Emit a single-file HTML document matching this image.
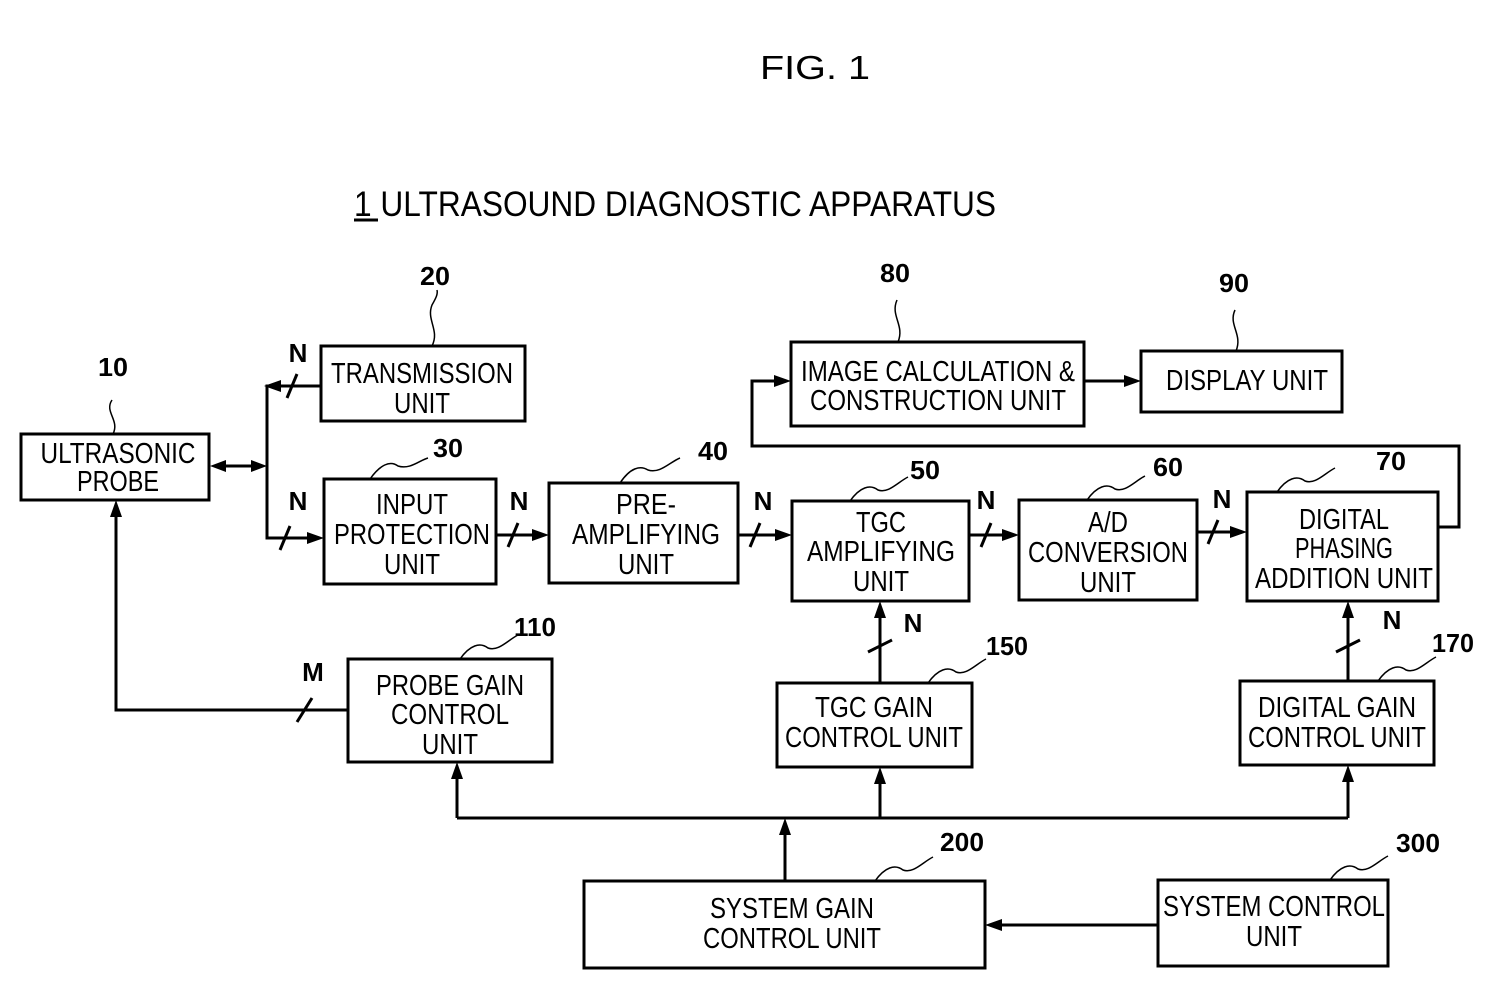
<!DOCTYPE html>
<html><head><meta charset="utf-8"><style>
html,body{margin:0;padding:0;background:#fff;}
svg{display:block;}
text{font-family:"Liberation Sans",sans-serif;fill:#000;}
.t{font-size:29px;}
.n{font-size:26px;font-weight:bold;}
</style></head><body>
<svg width="1500" height="1004" viewBox="0 0 1500 1004" xmlns="http://www.w3.org/2000/svg">
<text x="760" y="79" style="font-size:33px" textLength="110" lengthAdjust="spacingAndGlyphs">FIG. 1</text>
<text x="354" y="216" style="font-size:35px" textLength="642" lengthAdjust="spacingAndGlyphs">1 ULTRASOUND DIAGNOSTIC APPARATUS</text>
<line x1="354" y1="220" x2="378" y2="220" stroke="#000" stroke-width="3"/>

<g fill="none" stroke="#000" stroke-width="3">
<rect x="21" y="434" width="188" height="66"/>
<rect x="321" y="346" width="204" height="75"/>
<rect x="324" y="479" width="172" height="105"/>
<rect x="549" y="483" width="189" height="100"/>
<rect x="792" y="501" width="177" height="100"/>
<rect x="1019" y="500" width="178" height="100"/>
<rect x="1247" y="492" width="191" height="109"/>
<rect x="791" y="342" width="293" height="84"/>
<rect x="1141" y="351" width="201" height="61"/>
<rect x="348" y="659" width="204" height="103"/>
<rect x="777" y="683" width="195" height="84"/>
<rect x="1240" y="681" width="194" height="84"/>
<rect x="584" y="881" width="401" height="87"/>
<rect x="1158" y="880" width="230" height="86"/>

<polyline points="320,386 267,386 267,538 310,538"/>
<line x1="222" y1="466" x2="255" y2="466"/>
<line x1="496" y1="535" x2="535" y2="535"/>
<line x1="738" y1="535" x2="778" y2="535"/>
<line x1="969" y1="535" x2="1005" y2="535"/>
<line x1="1197" y1="532" x2="1233" y2="532"/>
<polyline points="1438,527 1459,527 1459,446 752,446 752,381 777,381"/>
<line x1="1084" y1="381" x2="1127" y2="381"/>
<polyline points="348,710 116,710 116,514"/>
<line x1="880" y1="683" x2="880" y2="615"/>
<line x1="1348" y1="681" x2="1348" y2="615"/>
<line x1="457" y1="818" x2="1348" y2="818"/>
<line x1="457" y1="818" x2="457" y2="776"/>
<line x1="880" y1="818" x2="880" y2="781"/>
<line x1="1348" y1="818" x2="1348" y2="779"/>
<line x1="785" y1="881" x2="785" y2="832"/>
<line x1="1158" y1="925" x2="999" y2="925"/>
<line x1="287" y1="398" x2="297" y2="374"/>
<line x1="280" y1="550" x2="290" y2="526"/>
<line x1="508" y1="547" x2="518" y2="523"/>
<line x1="750" y1="547" x2="760" y2="523"/>
<line x1="981" y1="547" x2="991" y2="523"/>
<line x1="1208" y1="544" x2="1218" y2="520"/>
<line x1="297" y1="722" x2="312" y2="698"/>
<line x1="868" y1="652" x2="892" y2="640"/>
<line x1="1336" y1="652" x2="1360" y2="640"/>
</g>
<g stroke="#000" stroke-width="1.5" fill="none">
<path d="M432,346 C440,330 426,320 432,305 C436,298 438,294 437,290"/>
<path d="M113,434 C120,420 104,412 112,400"/>
<path d="M370,479 C380,465 390,460 398,466 C410,470 420,460 428,458"/>
<path d="M620,483 C630,468 640,465 648,470 C660,474 670,462 680,458"/>
<path d="M850,501 C860,487 870,484 878,490 C888,494 898,482 908,477"/>
<path d="M1087,500 C1097,486 1107,483 1115,489 C1125,493 1135,481 1145,476"/>
<path d="M1277,492 C1287,478 1297,475 1305,481 C1315,485 1325,473 1335,468"/>
<path d="M898,342 C905,325 890,316 897,300"/>
<path d="M1236,351 C1243,334 1228,325 1235,310"/>
<path d="M460,659 C470,645 480,642 488,648 C498,652 508,640 518,635"/>
<path d="M928,683 C938,669 948,666 956,672 C966,676 976,664 986,659"/>
<path d="M1378,681 C1388,667 1398,664 1406,670 C1416,674 1426,662 1436,657"/>
<path d="M875,881 C885,867 895,864 903,870 C913,874 923,862 933,857"/>
<path d="M1330,880 C1340,866 1350,863 1358,869 C1368,873 1378,861 1388,856"/>
</g>
<g fill="#000">
<polygon points="264,386 281,380 281,392"/>
<polygon points="210,466 226,460 226,472"/>
<polygon points="267,466 251,460 251,472"/>
<polygon points="324,538 307,532 307,544"/>
<polygon points="549,535 532,529 532,541"/>
<polygon points="792,535 775,529 775,541"/>
<polygon points="1019,535 1002,529 1002,541"/>
<polygon points="1247,532 1230,526 1230,538"/>
<polygon points="791,381 774,375 774,387"/>
<polygon points="1141,381 1124,375 1124,387"/>
<polygon points="116,500 110,517 122,517"/>
<polygon points="880,601 874,618 886,618"/>
<polygon points="1348,601 1342,618 1354,618"/>
<polygon points="457,762 451,779 463,779"/>
<polygon points="880,767 874,784 886,784"/>
<polygon points="1348,765 1342,782 1354,782"/>
<polygon points="785,818 779,835 791,835"/>
<polygon points="985,925 1002,919 1002,931"/>
</g>
<g class="t" text-anchor="middle">
<text x="118" y="463" textLength="155" lengthAdjust="spacingAndGlyphs">ULTRASONIC</text>
<text x="118" y="491" textLength="82" lengthAdjust="spacingAndGlyphs">PROBE</text>
<text x="422" y="383" textLength="182" lengthAdjust="spacingAndGlyphs">TRANSMISSION</text>
<text x="422" y="413" textLength="56" lengthAdjust="spacingAndGlyphs">UNIT</text>
<text x="412" y="514" textLength="72" lengthAdjust="spacingAndGlyphs">INPUT</text>
<text x="412" y="544" textLength="156" lengthAdjust="spacingAndGlyphs">PROTECTION</text>
<text x="412" y="574" textLength="56" lengthAdjust="spacingAndGlyphs">UNIT</text>
<text x="646" y="514" textLength="60" lengthAdjust="spacingAndGlyphs">PRE-</text>
<text x="646" y="544" textLength="148" lengthAdjust="spacingAndGlyphs">AMPLIFYING</text>
<text x="646" y="574" textLength="56" lengthAdjust="spacingAndGlyphs">UNIT</text>
<text x="881" y="532" textLength="50" lengthAdjust="spacingAndGlyphs">TGC</text>
<text x="881" y="561" textLength="148" lengthAdjust="spacingAndGlyphs">AMPLIFYING</text>
<text x="881" y="591" textLength="56" lengthAdjust="spacingAndGlyphs">UNIT</text>
<text x="1108" y="532" textLength="40" lengthAdjust="spacingAndGlyphs">A/D</text>
<text x="1108" y="562" textLength="160" lengthAdjust="spacingAndGlyphs">CONVERSION</text>
<text x="1108" y="592" textLength="56" lengthAdjust="spacingAndGlyphs">UNIT</text>
<text x="1344" y="529" textLength="90" lengthAdjust="spacingAndGlyphs">DIGITAL</text>
<text x="1344" y="558" textLength="98" lengthAdjust="spacingAndGlyphs">PHASING</text>
<text x="1344" y="588" textLength="178" lengthAdjust="spacingAndGlyphs">ADDITION UNIT</text>
<text x="938" y="381" textLength="274" lengthAdjust="spacingAndGlyphs">IMAGE CALCULATION &amp;</text>
<text x="938" y="410" textLength="256" lengthAdjust="spacingAndGlyphs">CONSTRUCTION UNIT</text>
<text x="1247" y="390" textLength="162" lengthAdjust="spacingAndGlyphs">DISPLAY UNIT</text>
<text x="450" y="695" textLength="148" lengthAdjust="spacingAndGlyphs">PROBE GAIN</text>
<text x="450" y="724" textLength="118" lengthAdjust="spacingAndGlyphs">CONTROL</text>
<text x="450" y="754" textLength="56" lengthAdjust="spacingAndGlyphs">UNIT</text>
<text x="874" y="717" textLength="118" lengthAdjust="spacingAndGlyphs">TGC GAIN</text>
<text x="874" y="747" textLength="178" lengthAdjust="spacingAndGlyphs">CONTROL UNIT</text>
<text x="1337" y="717" textLength="158" lengthAdjust="spacingAndGlyphs">DIGITAL GAIN</text>
<text x="1337" y="747" textLength="178" lengthAdjust="spacingAndGlyphs">CONTROL UNIT</text>
<text x="792" y="918" textLength="164" lengthAdjust="spacingAndGlyphs">SYSTEM GAIN</text>
<text x="792" y="948" textLength="178" lengthAdjust="spacingAndGlyphs">CONTROL UNIT</text>
<text x="1274" y="916" textLength="222" lengthAdjust="spacingAndGlyphs">SYSTEM CONTROL</text>
<text x="1274" y="946" textLength="56" lengthAdjust="spacingAndGlyphs">UNIT</text>
</g>
<g class="n" text-anchor="middle">
<text x="435" y="285" textLength="30" lengthAdjust="spacingAndGlyphs">20</text>
<text x="113" y="376" textLength="30" lengthAdjust="spacingAndGlyphs">10</text>
<text x="448" y="457" textLength="30" lengthAdjust="spacingAndGlyphs">30</text>
<text x="713" y="460" textLength="30" lengthAdjust="spacingAndGlyphs">40</text>
<text x="925" y="479" textLength="30" lengthAdjust="spacingAndGlyphs">50</text>
<text x="1168" y="476" textLength="30" lengthAdjust="spacingAndGlyphs">60</text>
<text x="1391" y="470" textLength="30" lengthAdjust="spacingAndGlyphs">70</text>
<text x="895" y="282" textLength="30" lengthAdjust="spacingAndGlyphs">80</text>
<text x="1234" y="292" textLength="30" lengthAdjust="spacingAndGlyphs">90</text>
<text x="535" y="636" textLength="42" lengthAdjust="spacingAndGlyphs">110</text>
<text x="1007" y="655" textLength="42" lengthAdjust="spacingAndGlyphs">150</text>
<text x="1453" y="652" textLength="42" lengthAdjust="spacingAndGlyphs">170</text>
<text x="962" y="851" textLength="44" lengthAdjust="spacingAndGlyphs">200</text>
<text x="1418" y="852" textLength="44" lengthAdjust="spacingAndGlyphs">300</text>
<text x="298" y="362">N</text>
<text x="298" y="510">N</text>
<text x="519" y="510">N</text>
<text x="763" y="510">N</text>
<text x="986" y="509">N</text>
<text x="1222" y="508">N</text>
<text x="313" y="681">M</text>
<text x="913" y="632">N</text>
<text x="1392" y="629">N</text>
</g>
</svg>
</body></html>
